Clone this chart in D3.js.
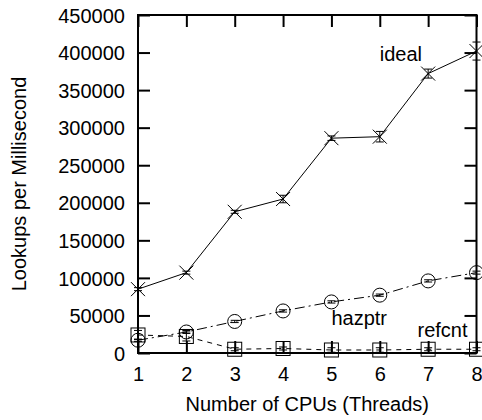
<!DOCTYPE html>
<html>
<head>
<meta charset="utf-8">
<script src="https://cdn.jsdelivr.net/npm/d3@7"></script>
<style>
  html, body { margin: 0; padding: 0; background: #fff; }
  svg { display: block; }
  text { font-family: "Liberation Sans", Arial, Helvetica, sans-serif; fill: #000; }
</style>
</head>
<body>
<svg id="chart" width="482" height="420"></svg>
<script>
// CPU counts on the x axis
const cpus = [1, 2, 3, 4, 5, 6, 7, 8];

// Lookups per millisecond for each scheme, with error half-widths
const ideal     = [85000, 107000, 188000, 205000, 286000, 288000, 372000, 402000];
const idealErr  = [2000, 2000, 2000, 5000, 3000, 7000, 6000, 12000];
const hazptr    = [17000, 28000, 42000, 56000, 68000, 77000, 96000, 107000];
const hazptrErr = [1500, 2000, 1500, 1500, 1500, 1500, 1500, 2000];
const refcnt    = [24000, 22000, 5000, 6000, 4000, 4000, 5000, 5000];
const refcntErr = [6000, 6000, 2000, 2000, 3000, 3000, 2000, 2000];

const yTicks = [0, 50000, 100000, 150000, 200000, 250000, 300000, 350000, 400000, 450000];

// Series labels placed in data coordinates
const labels = [
  { text: "ideal",  x: 6.0,  y: 389000 },
  { text: "hazptr", x: 5.0,  y: 37000 },
  { text: "refcnt", x: 6.78, y: 21000 }
];

const svg = d3.select("#chart");
const plotL = 138, plotR = 476.5, plotT = 15, plotB = 353;

const x = d3.scaleLinear().domain([1, 8]).range([plotL, plotR]);
const y = d3.scaleLinear().domain([0, 450000]).range([plotB, plotT]);

// Axes with inward ticks on all four sides
const axL = svg.append("g").attr("transform", `translate(${plotL},0)`)
  .call(d3.axisLeft(y).tickValues(yTicks).tickFormat(d3.format("d"))
    .tickSizeInner(-12).tickSizeOuter(0).tickPadding(13));
const axB = svg.append("g").attr("transform", `translate(0,${plotB})`)
  .call(d3.axisBottom(x).tickValues(cpus).tickFormat(d3.format("d"))
    .tickSizeInner(-12).tickSizeOuter(0).tickPadding(13));
const axR = svg.append("g").attr("transform", `translate(${plotR},0)`)
  .call(d3.axisRight(y).tickValues(yTicks).tickFormat("")
    .tickSizeInner(-12).tickSizeOuter(0));
const axT = svg.append("g").attr("transform", `translate(0,${plotT})`)
  .call(d3.axisTop(x).tickValues(cpus).tickFormat("")
    .tickSizeInner(-12).tickSizeOuter(0));

[axL, axB, axR, axT].forEach(a => {
  a.select(".domain").remove();
  a.selectAll(".tick line").attr("stroke", "#000").attr("stroke-width", 2);
  a.selectAll(".tick text").attr("font-size", 20)
    .attr("font-family", "'Liberation Sans', Arial, sans-serif").attr("fill", "#000");
});
axL.selectAll(".tick text").attr("dy", "0.36em");
axB.selectAll(".tick text").attr("dy", "0.76em");

// Plot border
svg.append("rect")
  .attr("x", plotL).attr("y", plotT)
  .attr("width", plotR - plotL).attr("height", plotB - plotT)
  .attr("fill", "none").attr("stroke", "#000").attr("stroke-width", 2);

function drawSeries(values, errs, dash, marker) {
  const pts = cpus.map((c, i) => ({ c, v: values[i], e: errs[i] }));
  const g = svg.append("g");
  g.append("path")
    .datum(pts)
    .attr("fill", "none")
    .attr("stroke", "#000")
    .attr("stroke-width", 1)
    .attr("stroke-dasharray", dash)
    .attr("d", d3.line().x(d => x(d.c)).y(d => y(d.v)));

  // Error bars with short caps
  const eb = g.selectAll(".eb").data(pts).enter().append("g").attr("class", "eb");
  eb.append("line")
    .attr("x1", d => x(d.c)).attr("x2", d => x(d.c))
    .attr("y1", d => y(d.v - d.e)).attr("y2", d => y(d.v + d.e))
    .attr("stroke", "#000").attr("stroke-width", 1);
  [-1, 1].forEach(s => {
    eb.append("line")
      .attr("x1", d => x(d.c) - 4).attr("x2", d => x(d.c) + 4)
      .attr("y1", d => y(d.v + s * d.e)).attr("y2", d => y(d.v + s * d.e))
      .attr("stroke", "#000").attr("stroke-width", 1);
  });

  const m = g.selectAll(".mk").data(pts).enter().append("g")
    .attr("transform", d => `translate(${x(d.c)},${y(d.v)})`);
  if (marker === "cross") {
    m.append("path").attr("d", "M-7,-7L7,7M-7,7L7,-7")
      .attr("stroke", "#000").attr("stroke-width", 1).attr("fill", "none");
  } else if (marker === "circle") {
    m.append("circle").attr("r", 7)
      .attr("stroke", "#000").attr("stroke-width", 1).attr("fill", "none");
  } else {
    m.append("rect").attr("x", -7).attr("y", -7).attr("width", 14).attr("height", 14)
      .attr("stroke", "#000").attr("stroke-width", 1).attr("fill", "none");
  }
}

drawSeries(ideal, idealErr, null, "cross");
drawSeries(hazptr, hazptrErr, "10,4,2,4", "circle");
drawSeries(refcnt, refcntErr, "5,5", "square");

// Series labels
svg.selectAll(".lbl").data(labels).enter().append("text")
  .attr("x", d => x(d.x)).attr("y", d => y(d.y))
  .attr("font-size", 20)
  .text(d => d.text);

// Axis titles
svg.append("text")
  .attr("x", (plotL + plotR) / 2).attr("y", 411)
  .attr("text-anchor", "middle").attr("font-size", 20)
  .text("Number of CPUs (Threads)");
svg.append("text")
  .attr("transform", `translate(26,${(plotT + plotB) / 2}) rotate(-90)`)
  .attr("text-anchor", "middle").attr("font-size", 20)
  .text("Lookups per Millisecond");
</script>
</body>
</html>
